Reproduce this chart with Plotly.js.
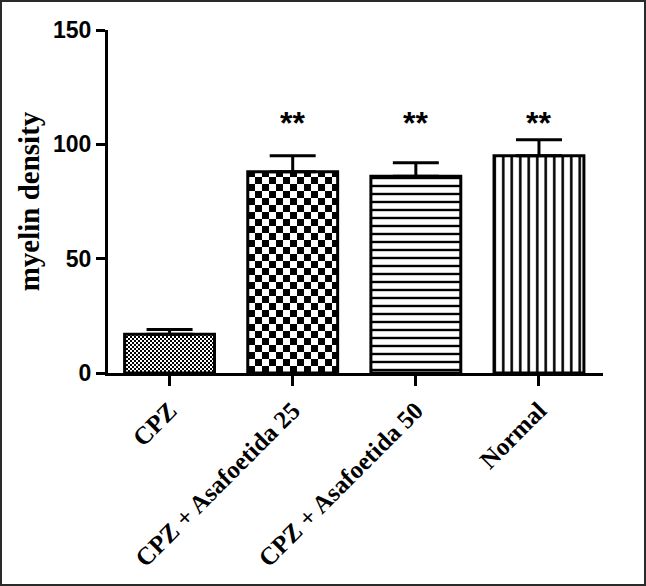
<!DOCTYPE html>
<html>
<head>
<meta charset="utf-8">
<script src="https://cdn.plot.ly/plotly-3.0.1.min.js"></script>
<style>
html,body{margin:0;padding:0;background:#fff;}
#wrap{width:646px;height:586px;box-sizing:border-box;border:2px solid #2a2a2a;overflow:hidden;}
#chart{width:642px;height:582px;}
</style>
</head>
<body>
<div id="wrap"><div id="chart"></div></div>
<script>
// ---- data ----
const categories = ["CPZ", "CPZ + Asafoetida 25", "CPZ + Asafoetida 50", "Normal"];
const meanValues = [17, 88, 86, 95];
const semValues = [2, 7, 6, 7];
const semLower = [0, 0, 0, 0];
const significance = ["", "**", "**", "**"];
const significanceLevel = 111;

// ---- styles ----
const patternShapes = [".", ".", "-", "|"];
const patternSizes = [4, 14, 8, 8.5];
const patternSolidity = [0.5, 0.5, 0.3, 0.3];
const checkerCells = [2, 7, 0, 0];
const serifBold = {family: "Liberation Serif, Times New Roman, serif", weight: 700, color: "#000"};
const sansBold = {family: "Liberation Sans, Arial, sans-serif", weight: 700, color: "#000"};

const trace = {
  type: "bar",
  x: categories,
  y: meanValues,
  width: 0.73,
  marker: {
    color: "#fff",
    line: {color: "#000", width: 3},
    pattern: {
      shape: patternShapes,
      size: patternSizes,
      solidity: patternSolidity,
      fgcolor: "#000",
      bgcolor: "#fff",
      fgopacity: 1,
      fillmode: "overlay"
    }
  },
  error_y: {
    type: "data",
    symmetric: false,
    array: semValues,
    arrayminus: semLower,
    color: "#000",
    thickness: 3,
    width: 23
  },
  hoverinfo: "none"
};

const annotations = categories.map((c, i) => ({
  x: c, y: significanceLevel, xref: "x", yref: "y",
  text: significance[i], showarrow: false,
  font: Object.assign({size: 32}, sansBold),
  yanchor: "middle", yshift: -4
})).filter(a => a.text);

const layout = {
  width: 642, height: 582,
  margin: {l: 106, r: 41, t: 28, b: 211},
  paper_bgcolor: "#fff", plot_bgcolor: "#fff",
  showlegend: false,
  xaxis: {
    type: "category",
    range: [-0.5, 3.52],
    showline: true, linecolor: "#000", linewidth: 3,
    ticks: "outside", ticklen: 10, tickwidth: 3, tickcolor: "#000",
    tickangle: -45,
    tickfont: Object.assign({size: 25}, serifBold),
    showgrid: false, zeroline: false
  },
  yaxis: {
    range: [0, 150],
    dtick: 50, tick0: 0,
    showline: true, linecolor: "#000", linewidth: 3,
    ticks: "outside", ticklen: 9, tickwidth: 3, tickcolor: "#000",
    tickfont: Object.assign({size: 23}, sansBold),
    showgrid: false, zeroline: false,
    title: {text: "myelin density", font: Object.assign({size: 29}, serifBold), standoff: 5}
  },
  annotations: annotations
};

Plotly.newPlot("chart", [trace], layout, {displayModeBar: false, staticPlot: true}).then(gd => {
  // replace the dot patterns with checkerboards
  const svgNS = "http://www.w3.org/2000/svg";
  const defs = gd.querySelector("svg.main-svg defs") || gd.querySelector("defs");
  const pts = gd.querySelectorAll(".trace.bars .point path");
  pts.forEach((p, i) => {
    const h = checkerCells[i];
    if (!h) return;
    const id = "checker" + i;
    const pat = document.createElementNS(svgNS, "pattern");
    pat.setAttribute("id", id);
    pat.setAttribute("patternUnits", "userSpaceOnUse");
    pat.setAttribute("width", 2 * h);
    pat.setAttribute("height", 2 * h);
    const bg = document.createElementNS(svgNS, "rect");
    bg.setAttribute("width", 2 * h);
    bg.setAttribute("height", 2 * h);
    bg.setAttribute("fill", "#fff");
    pat.appendChild(bg);
    const sq = document.createElementNS(svgNS, "path");
    sq.setAttribute("d", `M0,0h${h}v${h}h-${h}ZM${h},${h}h${h}v${h}h-${h}Z`);
    sq.setAttribute("fill", "#000");
    pat.appendChild(sq);
    defs.appendChild(pat);
    p.style.fill = `url(#${id})`;
    p.setAttribute("fill", `url(#${id})`);
  });
});
</script>
</body>
</html>
